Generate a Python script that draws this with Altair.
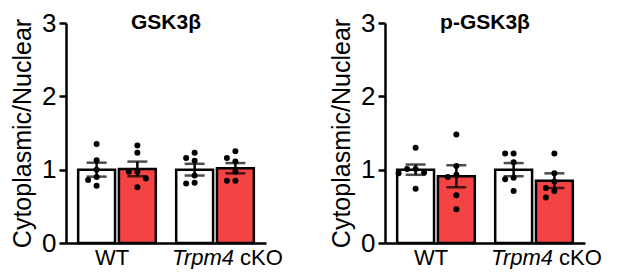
import altair as alt
import pandas as pd

# ---------------- data ----------------
groups = ["WT", "Trpm4 cKO"]
conditions = ["ctrl", "treat"]          # white bar, red bar
panel_titles = ["GSK3β", "p-GSK3β"]

# bar heights (mean) and error (SEM), order: WT ctrl, WT treat, cKO ctrl, cKO treat
gsk_means = [1.00, 1.01, 1.00, 1.02]
gsk_sems = [0.095, 0.10, 0.08, 0.07]
pgsk_means = [1.00, 0.91, 1.00, 0.85]
pgsk_sems = [0.07, 0.15, 0.09, 0.10]

# individual animals
gsk_wt_ctrl = [1.35, 1.13, 1.00, 0.90, 0.86, 0.78]
gsk_wt_treat = [1.33, 1.23, 0.97, 0.97, 0.88, 0.76]
gsk_ko_ctrl = [1.23, 1.16, 1.12, 0.92, 0.82, 0.81]
gsk_ko_treat = [1.25, 1.16, 1.11, 0.97, 0.85, 0.85]

pgsk_wt_ctrl = [1.30, 1.01, 1.01, 0.96, 0.95, 0.74]
pgsk_wt_treat = [1.48, 1.05, 0.93, 0.90, 0.65, 0.46]
pgsk_ko_ctrl = [1.22, 1.22, 1.10, 0.89, 0.87, 0.71]
pgsk_ko_treat = [1.22, 0.95, 0.84, 0.75, 0.71, 0.62]

y_ticks = [0, 1, 2, 3]
y_title = "Cytoplasmic/Nuclear"

# ---------------- layout / style ----------------
W, H = 200, 220
FONT = "Liberation Sans"
RED = "#F44343"
PX_PER_UNIT = H / 3.0
BW = W / 2.04 * (1 - 0.208)       # group bandwidth in px
BAR_STEP = BW / (2 - 0.095)       # xOffset step inside a group band


def swarm(vals, step=8.5, diam=7.0):
    placed = []
    offs = []
    for v in vals:
        y = v * PX_PER_UNIT
        chosen = 0.0
        for k in [0, -1, 1, -2, 2, -3, 3]:
            x = k * step
            if all((x - px) ** 2 + (y - py) ** 2 >= diam ** 2 for px, py in placed):
                chosen = x
                break
        placed.append((chosen, y))
        offs.append(chosen)
    return offs


def make_panel(title, means, sems, pts):
    keys = [(g, c) for g in groups for c in conditions]
    bars = pd.DataFrame({
        "group": [k[0] for k in keys],
        "cond": [k[1] for k in keys],
        "mean": means,
        "lo": [m - s for m, s in zip(means, sems)],
        "hi": [m + s for m, s in zip(means, sems)],
    })
    bar_w = BAR_STEP * (1 - 0.095)
    rows = []
    for (g, c), vals in zip(keys, pts):
        offs = swarm(vals)
        ci = conditions.index(c)
        for v, o in zip(vals, offs):
            rows.append({"group": g, "cond": c, "value": v,
                         "off": ci * BAR_STEP + bar_w / 2 + o})
    points = pd.DataFrame(rows)

    xband = alt.X("group:N", sort=groups,
                  scale=alt.Scale(paddingInner=0.208, paddingOuter=0.124),
                  axis=alt.Axis(title=None, labels=False, ticks=False,
                                domainColor="black", domainWidth=2.5))
    xoff = alt.XOffset("cond:N", sort=conditions,
                       scale=alt.Scale(paddingInner=0.095, paddingOuter=0))
    yax = alt.Axis(title=y_title, values=y_ticks, format="d", grid=False,
                   domainColor="black", domainWidth=2.5, tickColor="black",
                   tickWidth=2.5, tickSize=7, labelFontSize=26, labelFont=FONT,
                   labelColor="black", labelPadding=3, titleFont=FONT,
                   titleFontSize=25, titleFontWeight="normal", titleColor="black",
                   titlePadding=6)
    yscale = alt.Scale(domain=[0, 3], nice=False)

    base = alt.Chart(bars)
    bar_layer = base.mark_bar(stroke="black", strokeWidth=2.5).encode(
        x=xband, xOffset=xoff,
        y=alt.Y("mean:Q", scale=yscale, axis=yax),
        fill=alt.Fill("cond:N", scale=alt.Scale(domain=conditions, range=["white", RED]),
                      legend=None),
    )
    rule_layer = base.mark_rule(color="black", strokeWidth=2.5).encode(
        x=xband, xOffset=xoff, y="lo:Q", y2="hi:Q")
    cap_hi = base.mark_tick(color="black", thickness=2.5, size=20, orient="horizontal").encode(
        x=xband, xOffset=xoff, y="hi:Q")
    cap_lo = base.mark_tick(color="black", thickness=2.5, size=20, orient="horizontal").encode(
        x=xband, xOffset=xoff, y="lo:Q")
    pt_layer = alt.Chart(points).mark_circle(color="black", opacity=1, size=36).encode(
        x=xband,
        xOffset=alt.XOffset("off:Q", scale=alt.Scale(domain=[0, BW], range=[0, BW])),
        y="value:Q",
    )

    lab_df = pd.DataFrame({"group": groups})
    lab_y = alt.value(H + 22)
    wt_lab = alt.Chart(lab_df).transform_filter(alt.datum.group == groups[0]).mark_text(
        font=FONT, fontSize=22, color="black", baseline="alphabetic", align="center", dx=-5
    ).encode(x=xband, y=lab_y, text=alt.value("WT"))
    ko_it = alt.Chart(lab_df).transform_filter(alt.datum.group == groups[1]).mark_text(
        font=FONT, fontSize=22, fontStyle="italic", color="black", baseline="alphabetic",
        align="right", dx=19
    ).encode(x=xband, y=lab_y, text=alt.value("Trpm4"))
    ko_rest = alt.Chart(lab_df).transform_filter(alt.datum.group == groups[1]).mark_text(
        font=FONT, fontSize=22, color="black", baseline="alphabetic", align="left", dx=25
    ).encode(x=xband, y=lab_y, text=alt.value("cKO"))

    title_layer = alt.Chart(alt.Data(values=[{"t": title}])).mark_text(
        font=FONT, fontSize=21, fontWeight="bold", color="black", baseline="alphabetic",
        align="center"
    ).encode(x=alt.value(W / 2), y=alt.value(6), text="t:N")

    return alt.layer(bar_layer, rule_layer, cap_hi, cap_lo, pt_layer,
                     wt_lab, ko_it, ko_rest, title_layer).resolve_scale(
        xOffset="independent").properties(width=W, height=H)


left = make_panel(panel_titles[0], gsk_means, gsk_sems,
                  [gsk_wt_ctrl, gsk_wt_treat, gsk_ko_ctrl, gsk_ko_treat])
right = make_panel(panel_titles[1], pgsk_means, pgsk_sems,
                   [pgsk_wt_ctrl, pgsk_wt_treat, pgsk_ko_ctrl, pgsk_ko_treat])

chart = alt.hconcat(left, right, spacing=46).properties(
    padding={"left": 2, "top": 2, "right": 0, "bottom": 0}
).configure(font=FONT).configure_view(strokeWidth=0, stroke="transparent")

chart.save("out.html", embed_options={"renderer": "svg", "actions": False})
